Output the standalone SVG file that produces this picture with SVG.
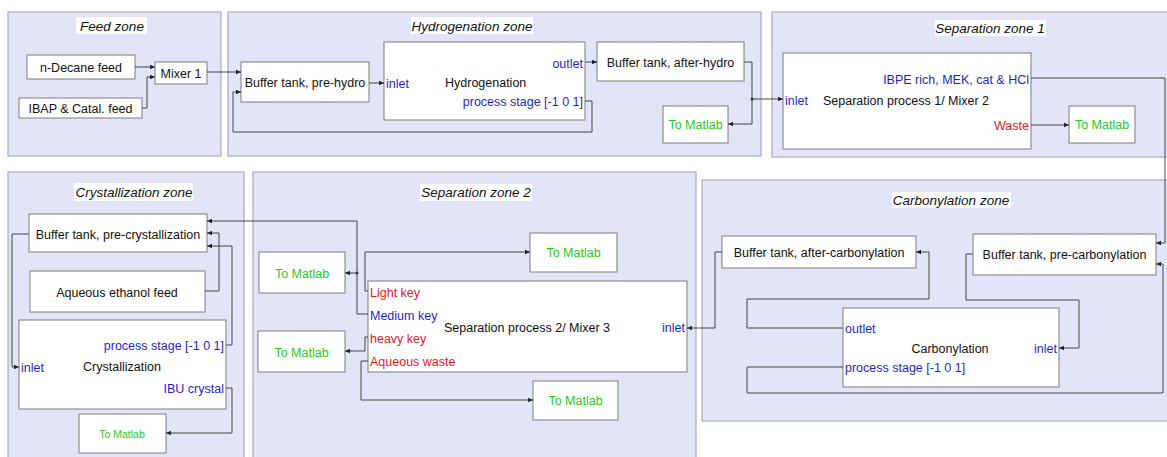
<svg xmlns="http://www.w3.org/2000/svg" width="1167" height="457" viewBox="0 0 1167 457">
<style>
.zone{fill:#e4e4f8;stroke:#a9a9b9;stroke-width:1.2}
.box{fill:#fff;stroke:#7c7c7c;stroke-width:1}
.tbg{fill:#fff}
.zt{font-family:"Liberation Sans",Arial,sans-serif;font-style:italic;font-size:13.5px;fill:#111;text-anchor:middle}
.t{font-family:"Liberation Sans",Arial,sans-serif;font-size:12.5px;fill:#111}
.c{text-anchor:middle}
.r{text-anchor:end}
.blue{fill:#1f1fcc}
.red{fill:#e6161a}
.green{fill:#1ecb1e}
.conn path{fill:none;stroke:#444;stroke-width:1}
.dot{fill:#333}
</style>
<defs>
<marker id="ah" markerWidth="6" markerHeight="6" refX="5" refY="3" orient="auto" markerUnits="userSpaceOnUse">
<path d="M0,0.8 L5,3 L0,5.2 Z" fill="#222"/>
</marker>
</defs>
<rect width="1167" height="457" fill="#fff"/>

<g id="zones">
<g id="feed-zone"><rect class="zone" x="8" y="12" width="213" height="144"/><rect class="tbg" x="76" y="17" width="71" height="17"/><text class="zt" x="112" y="30.5">Feed zone</text></g>
<g id="hydro-zone"><rect class="zone" x="228" y="12" width="533" height="144"/><rect class="tbg" x="411" y="17" width="122" height="17"/><text class="zt" x="472" y="30.5">Hydrogenation zone</text></g>
<g id="sep1-zone"><rect class="zone" x="772" y="12" width="400" height="145"/><rect class="tbg" x="935" y="20" width="111" height="16"/><text class="zt" x="990" y="33">Separation zone 1</text></g>
<g id="cryst-zone"><rect class="zone" x="8" y="172" width="236" height="295"/><rect class="tbg" x="74" y="183" width="119" height="18"/><text class="zt" x="134" y="197">Crystallization zone</text></g>
<g id="sep2-zone"><rect class="zone" x="253" y="172" width="443" height="295"/><rect class="tbg" x="420" y="184" width="112" height="17"/><text class="zt" x="476" y="197">Separation zone 2</text></g>
<g id="carb-zone"><rect class="zone" x="702" y="180" width="470" height="241"/><rect class="tbg" x="892" y="192" width="119" height="16"/><text class="zt" x="951" y="205">Carbonylation zone</text></g>
</g>

<g id="ndecane"><rect class="box" x="27" y="55" width="108" height="24"/><text class="t c" x="81" y="71.5">n-Decane feed</text></g>
<g id="ibap"><rect class="box" x="19" y="98" width="123" height="20"/><text class="t c" x="80.5" y="112.5">IBAP &amp; Catal. feed</text></g>
<g id="mixer1"><rect class="box" x="155" y="62" width="52" height="22"/><text class="t c" x="181" y="77.5">Mixer 1</text></g>
<g id="buf-prehydro"><rect class="box" x="241" y="62" width="128" height="40"/><text class="t c" x="305" y="87">Buffer tank, pre-hydro</text></g>
<g id="hydrogenation"><rect class="box" x="384" y="42" width="201" height="78"/>
<text class="t blue" x="386" y="87.5">inlet</text>
<text class="t" x="445" y="86.5">Hydrogenation</text>
<text class="t r blue" x="583" y="67.5">outlet</text>
<text class="t r blue" x="583" y="105.5">process stage [-1 0 1]</text></g>
<g id="buf-afterhydro"><rect class="box" x="597" y="42" width="147" height="39"/><text class="t c" x="670.5" y="66.5">Buffer tank, after-hydro</text></g>
<g id="matlab-hydro"><rect class="box" x="663" y="106" width="65" height="37"/><text class="t c green" x="695.5" y="128.5">To Matlab</text></g>
<g id="sep1"><rect class="box" x="783" y="53" width="248" height="96"/>
<text class="t blue" x="785" y="104.5">inlet</text>
<text class="t" x="823" y="104.5">Separation process 1/ Mixer 2</text>
<text class="t r blue" x="1029" y="83.5">IBPE rich, MEK, cat &amp; HCl</text>
<text class="t r red" x="1029" y="129.5">Waste</text></g>
<g id="matlab-sep1"><rect class="box" x="1069" y="106" width="66" height="37"/><text class="t c green" x="1102" y="128.5">To Matlab</text></g>

<g id="buf-precryst"><rect class="box" x="29" y="214" width="178" height="38"/><text class="t c" x="118" y="238.5">Buffer tank, pre-crystallization</text></g>
<g id="aq-ethanol"><rect class="box" x="30" y="271" width="175" height="41"/><text class="t c" x="117" y="296.5">Aqueous ethanol feed</text></g>
<g id="crystallization"><rect class="box" x="19" y="320" width="207" height="89"/>
<text class="t r blue" x="224" y="349.5">process stage [-1 0 1]</text>
<text class="t blue" x="21" y="371.5">inlet</text>
<text class="t c" x="122" y="371">Crystallization</text>
<text class="t r blue" x="224" y="392.5">IBU crystal</text></g>
<g id="matlab-cryst"><rect class="box" x="79" y="414" width="87" height="39"/><text class="t c green" x="122" y="437.5" style="font-size:10.5px">To Matlab</text></g>

<g id="sep2"><rect class="box" x="368" y="281" width="319" height="91"/>
<text class="t red" x="370" y="296.5">Light key</text>
<text class="t blue" x="370" y="319.5">Medium key</text>
<text class="t red" x="370" y="342.5">heavy key</text>
<text class="t red" x="370" y="366">Aqueous waste</text>
<text class="t" x="444" y="331.5">Separation process 2/ Mixer 3</text>
<text class="t r blue" x="685" y="331.5">inlet</text></g>
<g id="matlab-sep2-top"><rect class="box" x="530" y="233" width="87" height="39"/><text class="t c green" x="573.5" y="256.5">To Matlab</text></g>
<g id="matlab-sep2-lt"><rect class="box" x="259" y="252" width="86" height="41"/><text class="t c green" x="302" y="277.5">To Matlab</text></g>
<g id="matlab-sep2-lb"><rect class="box" x="258" y="331" width="87" height="41"/><text class="t c green" x="301.5" y="356.5">To Matlab</text></g>
<g id="matlab-sep2-bot"><rect class="box" x="533" y="381" width="85" height="39"/><text class="t c green" x="575.5" y="404.5">To Matlab</text></g>

<g id="buf-aftercarb"><rect class="box" x="722" y="236" width="194" height="32"/><text class="t c" x="819" y="256.5">Buffer tank, after-carbonylation</text></g>
<g id="buf-precarb"><rect class="box" x="973" y="234" width="183" height="41"/><text class="t c" x="1064.5" y="259">Buffer tank, pre-carbonylation</text></g>
<g id="carbonylation"><rect class="box" x="843" y="308" width="216" height="79"/>
<text class="t blue" x="845" y="332.5">outlet</text>
<text class="t c" x="950" y="352.5">Carbonylation</text>
<text class="t r blue" x="1057" y="352.5">inlet</text>
<text class="t blue" x="845" y="372">process stage [-1 0 1]</text></g>

<g id="connectors" class="conn">
<path d="M135,67 H155" marker-end="url(#ah)"/>
<path d="M142,108 H147 V77 H155" marker-end="url(#ah)"/>
<path d="M207,72 H241" marker-end="url(#ah)"/>
<path d="M585,101 H592 V132 H233 V92 H241" marker-end="url(#ah)"/>
<path d="M369,83 H384" marker-end="url(#ah)"/>
<path d="M585,62 H597" marker-end="url(#ah)"/>
<path d="M744,62 H752 V124 H728" marker-end="url(#ah)"/>
<path d="M752,99 H783" marker-end="url(#ah)"/>
<path d="M1031,125 H1069" marker-end="url(#ah)"/>
<path d="M1031,78 H1165 V243 H1156" marker-end="url(#ah)"/>
<path d="M843,367 H747 V393 H1163 V264 H1156" marker-end="url(#ah)"/>
<path d="M843,328 H747 V299 H929 V252 H916" marker-end="url(#ah)"/>
<path d="M973,254 H966 V300 H1079 V348 H1059" marker-end="url(#ah)"/>
<path d="M722,252 H715 V328 H687" marker-end="url(#ah)"/>
<path d="M368,314 H357 V221 H207" marker-end="url(#ah)"/>
<path d="M357,273 H345" marker-end="url(#ah)"/>
<path d="M368,291 H365 V252 H530" marker-end="url(#ah)"/>
<path d="M368,337 H365 V351 H345" marker-end="url(#ah)"/>
<path d="M368,361 H361 V400 H533" marker-end="url(#ah)"/>
<path d="M29,234 H12 V367 H19" marker-end="url(#ah)"/>
<path d="M205,291 H219 V233 H207" marker-end="url(#ah)"/>
<path d="M226,345 H232 V246 H207" marker-end="url(#ah)"/>
<path d="M226,388 H232 V433 H166" marker-end="url(#ah)"/>
<circle class="dot" cx="752" cy="99" r="1.5"/>
<circle class="dot" cx="357" cy="273" r="1.5"/>
</g>
</svg>
